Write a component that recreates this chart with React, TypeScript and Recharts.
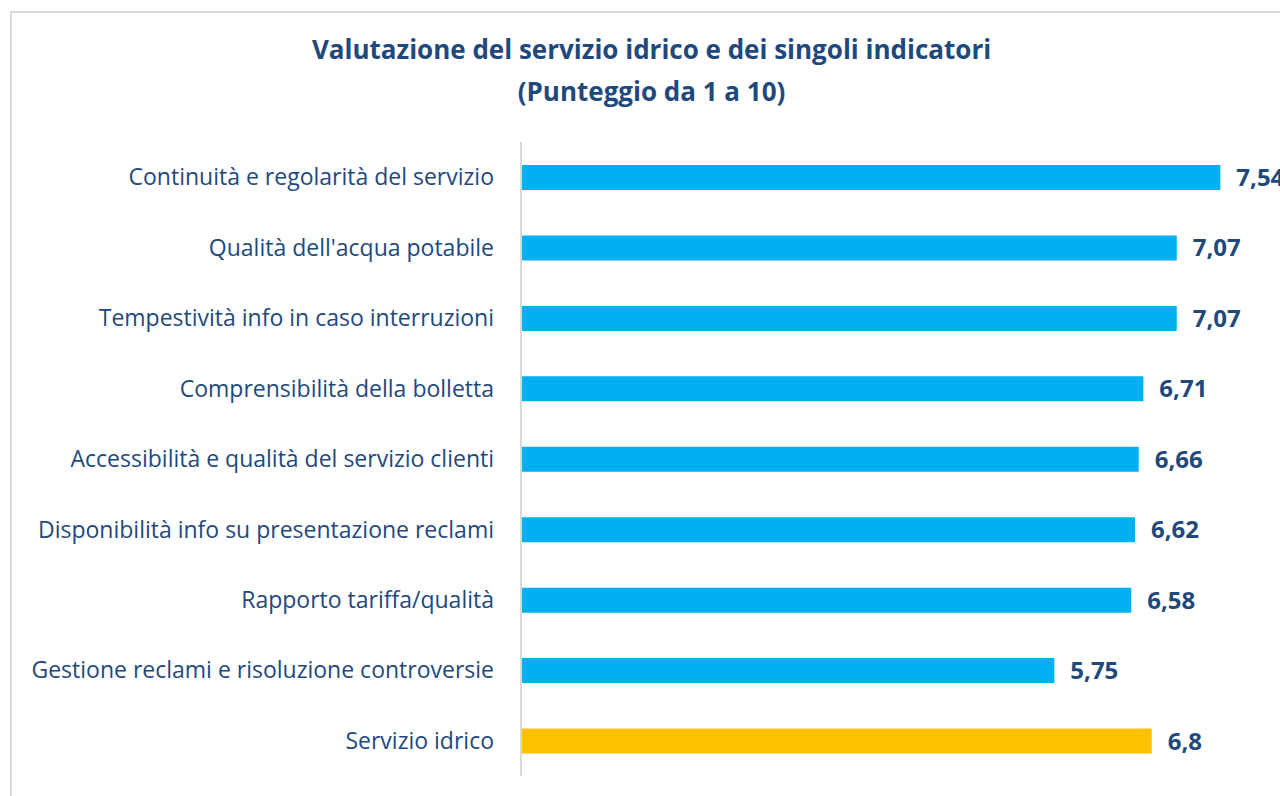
import React from "react";
import { BarChart, Bar, XAxis, YAxis, Cell, LabelList } from "recharts";

const categories = [
  "Continuità e regolarità del servizio",
  "Qualità dell'acqua potabile",
  "Tempestività info in caso interruzioni",
  "Comprensibilità della bolletta",
  "Accessibilità e qualità del servizio clienti",
  "Disponibilità info su presentazione reclami",
  "Rapporto tariffa/qualità",
  "Gestione reclami e risoluzione controversie",
  "Servizio idrico",
];
const scores = [7.54, 7.07, 7.07, 6.71, 6.66, 6.62, 6.58, 5.75, 6.8];
const barColors = ["#00B0F0", "#00B0F0", "#00B0F0", "#00B0F0", "#00B0F0", "#00B0F0", "#00B0F0", "#00B0F0", "#FFC000"];
const titleLines = ["Valutazione del servizio idrico e dei singoli indicatori", "(Punteggio da 1 a 10)"];

const data = categories.map((name, i) => ({ name, value: scores[i], color: barColors[i] }));

const TEXT = "#1F497D";
const FONT = "'Open Sans', Lato, sans-serif";

export default function App() {
  return (
    <div style={{ position: "absolute", left: 0, top: 0, width: 1280, height: 796, overflow: "hidden", background: "#fff", fontFamily: FONT }}>
      <div style={{ position: "absolute", left: 10, top: 11, width: 1400, height: 900, border: "2px solid #D9D9D9", boxSizing: "border-box" }} />
      {titleLines.map((t, i) => (
        <div key={i} style={{ position: "absolute", left: 0, width: 1303, top: 31 + i * 42, textAlign: "center", fontSize: 26, fontWeight: 700, color: TEXT, lineHeight: "36px", whiteSpace: "nowrap" }}>
          {t}
        </div>
      ))}
      <div style={{ position: "absolute", left: 0, top: 0 }}>
        <BarChart width={1280} height={796} data={data} layout="vertical" margin={{ top: 142, right: 17, bottom: 20, left: 0 }}>
          <XAxis type="number" domain={[0, 8]} hide />
          <YAxis
            type="category"
            dataKey="name"
            width={521}
            tickSize={0}
            tickMargin={27}
            axisLine={{ stroke: "#D9D9D9", strokeWidth: 2 }}
            tickLine={false}
            tick={{ fill: TEXT, fontSize: 23, fontFamily: FONT }}
            interval={0}
          />
          <Bar dataKey="value" barSize={25} isAnimationActive={false}>
            {data.map((d, i) => (
              <Cell key={i} fill={d.color} />
            ))}
            <LabelList
              dataKey="value"
              position="right"
              offset={16}
              formatter={(v: number) => String(v).replace(".", ",")}
              style={{ fill: TEXT, fontSize: 24, fontWeight: 700, fontFamily: FONT }}
            />
          </Bar>
        </BarChart>
      </div>
    </div>
  );
}
